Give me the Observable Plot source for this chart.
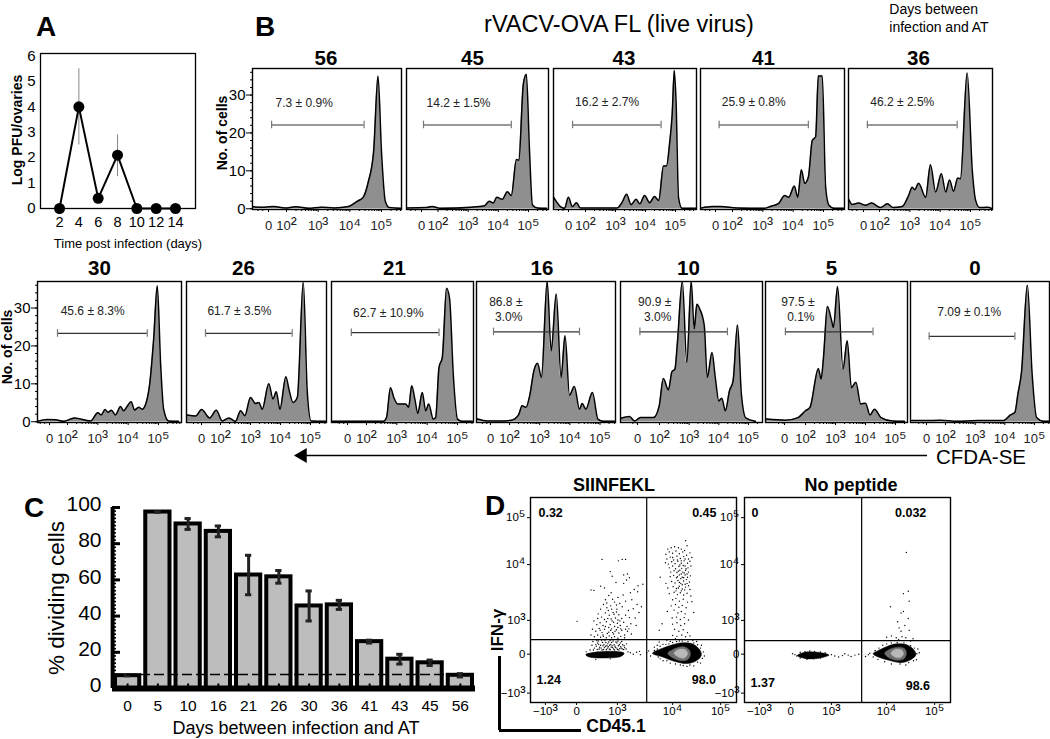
<!DOCTYPE html>
<html>
<head>
<meta charset="utf-8">
<script src="https://cdn.jsdelivr.net/npm/d3@7"></script>
<script src="https://cdn.jsdelivr.net/npm/@observablehq/plot@0.6"></script>
<style>
html,body{margin:0;padding:0;background:#fff}
#page{position:relative;width:1050px;height:739px;overflow:hidden;font-family:"Liberation Sans",Arial,sans-serif;color:#000}
#page svg{position:absolute;overflow:visible}
.t{position:absolute;white-space:pre;line-height:1}
</style>
</head>
<body>
<div id="page"></div>
<script>
// ---------- Panel A ----------
const aDays = [2,4,6,8,10,12,14];
const aLog = [0,4,0.4,2.1,0,0,0];
const aLow = [null,2.5,null,1.25,null,null,null];
const aHigh = [null,5.5,null,2.9,null,null,null];

// ---------- Panel B: histograms [display position, cells] ----------
const hist56=[[0.95,.5],[1.3,.4],[1.6,.6],[1.95,.2],[2.3,.5],[2.7,.1],[3.1,.4],[3.5,.2],[3.8,.4],[3.96,.6],[4.24,2],[4.42,3],[4.58,7],[4.75,15],[4.89,35],[5,15],[5.12,2],[5.25,.3],[5.6,.1]];
const hist45=[[0.95,.2],[1.6,.3],[1.8,.6],[2.1,.1],[3.1,.4],[3.54,.8],[3.7,2],[3.83,1.5],[3.95,3],[4.13,2.5],[4.3,4.5],[4.43,3.5],[4.6,13],[4.68,12.8],[4.83,33],[4.93,35.5],[5.03,16],[5.13,1],[5.3,.2],[5.6,.1]];
const hist43=[[0.94,3],[1.19,.4],[1.3,.1],[1.43,3],[1.56,.6],[1.7,1.6],[1.83,.2],[3.06,.2],[3.22,1.7],[3.37,3.8],[3.52,1.1],[3.69,2.5],[3.81,1.3],[3.97,3.5],[4.14,1.6],[4.3,3.2],[4.44,2.2],[4.6,11.3],[4.7,11.3],[4.8,17],[4.89,25],[4.96,36.5],[5.02,28],[5.1,3],[5.22,.1],[5.7,.1]];
const hist41=[[0.97,.2],[1.33,.6],[1.6,.6],[2.15,.2],[3.03,.1],[3.25,.6],[3.52,1.4],[3.72,3.5],[3.85,3],[4.04,6],[4.15,3],[4.27,10.3],[4.38,6.7],[4.5,8.3],[4.63,18],[4.74,19],[4.83,35],[4.96,35],[5.07,5.7],[5.18,.9],[5.35,.1],[5.7,.1]];
const hist36=[[0.99,2.4],[1.1,1.1],[1.31,1.5],[1.54,.9],[1.74,1.5],[2.03,.3],[2.26,1.3],[2.45,.3],[2.75,.6],[2.96,3.5],[3.08,5.7],[3.16,5],[3.29,6.7],[3.52,3],[3.68,11.6],[3.85,4.4],[4.04,9.2],[4.18,4.4],[4.31,7.6],[4.44,4.6],[4.58,8.1],[4.67,7.9],[4.89,35.8],[5.06,10],[5.17,2.2],[5.3,.3],[5.56,.4],[5.7,.1]];
const hist30=[[1.05,.2],[1.33,.6],[1.6,.5],[1.87,.1],[2.23,1],[2.76,.2],[3,2.4],[3.11,1.8],[3.24,3.2],[3.33,2.5],[3.45,3],[3.58,1.8],[3.75,4],[3.85,2.9],[3.97,4.1],[4.1,5.3],[4.21,3.1],[4.35,3.8],[4.46,3.3],[4.57,4.5],[4.71,10],[4.84,21.8],[4.96,35.9],[5.07,15.2],[5.17,3.3],[5.33,.2],[5.66,.1]];
const hist26=[[0.89,1.8],[1.17,1.5],[1.37,3.2],[1.64,1],[1.86,3],[2.06,.2],[2.28,1],[2.5,.1],[2.67,2.9],[2.81,1.6],[3,6.4],[3.17,4.8],[3.28,5.1],[3.39,3.3],[3.61,10],[3.75,6],[3.86,7.9],[3.98,3.3],[4.18,11.9],[4.28,8.6],[4.42,5.1],[4.56,6.4],[4.76,36.8],[4.89,8.2],[5.02,.2],[5.5,.1]];
const hist21=[[0.87,.1],[2.56,.1],[2.66,1.1],[2.79,9],[2.9,6.4],[3.03,4.7],[3.29,4.7],[3.39,3.8],[3.49,9.5],[3.6,5.7],[3.69,2.2],[3.84,7.7],[3.95,2.9],[4.05,4.7],[4.2,.7],[4.28,1.1],[4.39,14.3],[4.5,17],[4.64,35.2],[4.74,32.4],[4.86,12.6],[5,.7],[5.16,.1],[5.5,.1]];
const hist16=[[0.94,.7],[1.26,.2],[1.69,.2],[2.06,.4],[2.3,1.8],[2.42,4.2],[2.55,3.8],[2.67,6.9],[2.81,13.5],[2.93,15.4],[3.06,11.7],[3.25,37],[3.38,18.7],[3.55,33.7],[3.71,11.7],[3.84,22.7],[3.99,7],[4.15,9.3],[4.32,3.3],[4.41,4.8],[4.53,3.3],[4.75,7.7],[4.93,.7],[5.11,.1],[5.48,.1]];
const hist10=[[0.72,1],[0.99,1.4],[1.16,.2],[1.36,1.1],[1.8,1.1],[1.99,4.2],[2.13,11.4],[2.3,8.4],[2.42,13.2],[2.52,13.9],[2.6,20.5],[2.77,37],[2.92,15.7],[3.07,37],[3.17,24.5],[3.26,31],[3.36,29.7],[3.51,25.3],[3.61,11.7],[3.77,18.3],[3.88,11.7],[4,5.5],[4.1,6.2],[4.22,2.9],[4.36,8.2],[4.48,10.8],[4.63,25.5],[4.76,7.3],[4.91,1],[5.23,.1]];
const hist5=[[0.7,.7],[1.32,.4],[1.75,1.1],[2,2.9],[2.15,3.8],[2.43,14],[2.52,11.3],[2.6,17],[2.73,30.4],[2.86,27],[2.93,24.9],[3.07,35.7],[3.25,13.9],[3.39,21.4],[3.53,9],[3.68,10.4],[3.84,4.7],[4,4.9],[4.15,1.8],[4.3,3.3],[4.52,1.1],[4.89,.2],[5.3,.1]];
const hist0=[[0.86,.3],[1.33,.3],[1.83,.4],[2.4,.1],[3.07,.3],[3.94,.3],[4.19,1.8],[4.34,2.5],[4.44,7.3],[4.56,13],[4.76,36],[4.92,12.6],[5.07,1.1],[5.31,.1],[5.6,.1]];

const bPanels = [
  {day:"56",hist:hist56,pct:"7.3 ± 0.9%",gate:[1.53,4.45,22.1],pctAt:[2.56,28.2]},
  {day:"45",hist:hist45,pct:"14.2 ± 1.5%",gate:[1.52,4.43,22.1],pctAt:[2.68,28.2]},
  {day:"43",hist:hist43,pct:"16.2 ± 2.7%",gate:[1.57,4.52,22.1],pctAt:[2.72,28.5]},
  {day:"41",hist:hist41,pct:"25.9 ± 0.8%",gate:[1.56,4.5,22.1],pctAt:[2.7,28.5]},
  {day:"36",hist:hist36,pct:"46.2 ± 2.5%",gate:[1.6,4.56,22.1],pctAt:[2.75,28.5]},
  {day:"30",hist:hist30,pct:"45.6 ± 8.3%",gate:[1.67,4.63,23.3],pctAt:[2.83,29.3]},
  {day:"26",hist:hist26,pct:"61.7 ± 3.5%",gate:[1.5,4.39,23.3],pctAt:[2.63,29.3]},
  {day:"21",hist:hist21,pct:"62.7 ± 10.9%",gate:[1.5,4.39,23.5],pctAt:[2.72,29]},
  {day:"16",hist:hist16,pct:"86.8 ±\n3.0%",gate:[1.47,4.32,23.7],pctAt:[2.43,29.8],end:true},
  {day:"10",hist:hist10,pct:"90.9 ±\n3.0%",gate:[1.34,4.29,23.7],pctAt:[2.4,29.8],end:true},
  {day:"5",hist:hist5,pct:"97.5 ±\n0.1%",gate:[1.33,4.25,23.7],pctAt:[2.3,29.8],end:true},
  {day:"0",hist:hist0,pct:"7.09 ± 0.1%",gate:[1.45,4.34,22.5],pctAt:[2.8,29.1]}
];
const bTickLabels = ["0","10²","10³","10⁴","10⁵"];
const bMinorTicks = [2.3,2.48,2.6,2.7,2.78,2.85,2.9,2.95,3.3,3.48,3.6,3.7,3.78,3.85,3.9,3.95,4.3,4.48,4.6,4.7,4.78,4.85,4.9,4.95,5.3,5.48,5.6,5.7,1.1,1.25];

// Layout of the small multiples
const bLayout = [
  {l:252,r:401,t:68,b:209,x2:286,x5:381,zero:268,dx:-1,axis:true},
  {l:406,r:548,t:68,b:209,x2:437.5,x5:528,zero:421,dx:-5},
  {l:553,r:696,t:68,b:209,x2:585,x5:675,zero:568,dx:-1},
  {l:700,r:844,t:68,b:209,x2:732,x5:823,zero:715,dx:-9},
  {l:848,r:992,t:68,b:209,x2:879,x5:970,zero:863,dx:-2},
  {l:37,r:181,t:281,b:422,x2:67,x5:158,zero:49,dx:-10,axis:true},
  {l:186,r:326,t:281,b:422,x2:220,x5:310,zero:201,dx:-13},
  {l:331,r:473,t:281,b:422,x2:366,x5:457,zero:347,dx:-8},
  {l:476,r:615,t:281,b:422,x2:509,x5:599.5,zero:490,dx:-4},
  {l:620,r:762,t:281,b:422,x2:659,x5:748,zero:637,dx:-3},
  {l:765,r:907,t:281,b:422,x2:805,x5:895,zero:784,dx:-5},
  {l:910,r:1049,t:281,b:422,x2:945,x5:1034,zero:926,dx:-5}
];

// ---------- Panel C ----------
const cDays = ["0","5","10","16","21","26","30","36","41","43","45","56"];
const cPct = [7.09,97.5,90.9,86.8,62.7,61.7,45.6,46.2,25.9,16.2,14.2,7.3];
const cErr = [0.1,0.1,3.0,3.0,10.9,3.5,8.3,2.5,0.8,2.7,1.5,0.9];
const cCutoff = 7.7;

// ---------- Panel D (display-scale positions) ----------
const dXTicks = [1.35,2,2.85,4,5];
const dXLabels = ["−10³","0","10³","10⁴","10⁵"];
const dYTicks = [1.26,2.09,2.81,4,5];
const dYLabels = ["−10³","0","10³","10⁴","10⁵"];
const d1Upper = [[2.53,4.11],[2.87,4.08],[2.95,4.11],[3.02,4.11],[2.7,3.85],[2.74,3.75],[2.98,3.78],[3.06,3.8],[3.1,3.72],[3.04,3.67],[2.82,3.62],[2.98,3.6],[2.3,3.46],[2.36,3.45],[2.5,3.54],[2.58,3.5],[3.28,3.55],[3.38,3.58],[3.2,3.47],[3.27,3.42],[3.12,3.4],[2.97,3.35],[2.86,3.3],[2.72,3.4],[2.67,3.34],[2.6,3.25],[2.79,3.2],[2.9,3.17],[3.02,3.22],[3.15,3.25],[3.26,3.15],[3.35,3.1],[2.56,3.15],[2.5,3.05],[2.63,3.08],[2.71,3.12],[2.84,3.05],[2.95,3.1],[3.08,3.02],[3.18,3.06],[3.3,2.98],[2.45,2.95],[2.52,2.88],[2.6,2.97],[2.68,2.92],[2.76,2.98],[2.81,2.86],[2.88,2.93],[2.94,2.85],[3.02,2.92],[3.1,2.87],[3.22,2.86],[2.01,2.79],[2.36,2.8],[2.42,2.72],[2.49,2.76],[2.55,2.7],[2.62,2.78],[2.7,2.72],[2.74,2.8],[2.79,2.68],[2.85,2.75],[2.91,2.7],[2.98,2.77],[3.05,2.68],[3.13,2.74],[3.24,2.7],[2.33,2.62],[2.4,2.58],[2.47,2.64],[2.53,2.55],[2.58,2.62],[2.64,2.53],[2.71,2.6],[2.77,2.52],[2.83,2.61],[2.88,2.54],[2.94,2.6],[3,2.5],[3.06,2.58],[3.14,2.52],[2.3,2.5],[2.37,2.46],[2.44,2.5],[2.5,2.45],[2.56,2.47],[2.62,2.44],[2.68,2.48],[2.73,2.44],[2.79,2.46],[2.86,2.43],[2.92,2.47],[3,2.44],
[2.66,3.02],[2.73,3.05],[2.78,2.94],[2.83,2.99],[2.86,2.82],[2.72,2.84],[2.65,2.85],[2.58,2.83],[2.77,2.77],[2.9,2.8],[2.67,2.66],[2.6,2.68],[2.73,2.63],[2.8,2.58],[2.86,2.66],[2.92,2.63],[2.49,2.6],[2.55,2.5],[2.67,2.56],[2.75,2.55],[3.02,2.62],[3.09,2.63],[2.44,2.85],[2.75,3.26],[2.83,3.14],[2.63,3.18]];
const d1UpperRight = [[4.27,4.51],[4.3,4.4],[4.25,4.3],[4.36,4.25],[3.9,4.33],[3.97,4.36],[4.04,4.38],[4.12,4.36],[4.18,4.33],[3.86,4.22],[3.93,4.27],[4,4.24],[4.07,4.29],[4.14,4.23],[4.21,4.27],[4.29,4.2],[3.88,4.12],[3.95,4.16],[4.02,4.1],[4.09,4.18],[4.16,4.13],[4.23,4.17],[4.33,4.12],[4.4,4.15],[3.85,4.04],[3.91,4.01],[3.98,4.06],[4.05,4.02],[4.11,4.07],[4.18,4.03],[4.24,4.08],[4.31,4.03],[4.36,4.07],[3.93,3.93],[4,3.97],[4.06,3.91],[4.13,3.96],[4.19,3.92],[4.26,3.97],[4.32,3.93],[4.38,3.97],[3.96,3.84],[4.03,3.87],[4.09,3.83],[4.15,3.88],[4.21,3.84],[4.27,3.88],[4.33,3.84],[3.74,3.73],[3.95,3.74],[4.02,3.77],[4.08,3.72],[4.14,3.78],[4.2,3.73],[4.26,3.78],[4.31,3.73],[4.37,3.76],[3.86,3.6],[3.98,3.64],[4.05,3.61],[4.11,3.66],[4.17,3.6],[4.23,3.65],[4.3,3.6],[4.35,3.63],[3.9,3.5],[4.01,3.53],[4.08,3.49],[4.14,3.54],[4.2,3.48],[4.27,3.52],[4.36,3.47],[3.93,3.38],[4.03,3.41],[4.1,3.36],[4.16,3.4],[4.23,3.35],[4.3,3.39],[4.38,3.33],[4,3.25],[4.07,3.28],[4.14,3.22],[4.22,3.26],[4.31,3.2],[4.4,3.21],[3.97,3.12],[4.06,3.15],[4.13,3.09],[4.2,3.13],[4.28,3.08],[3.89,3],[4.03,3.03],[4.11,2.97],[4.18,3],[4.26,2.95],[4.44,2.98],[3.99,2.86],[4.08,2.88],[4.16,2.83],[4.24,2.87],[4.33,2.82],[3.78,2.74],[4,2.73],[4.09,2.76],[4.17,2.7],[4.25,2.74],[3.72,2.6],[4.04,2.62],[4.13,2.58],[4.22,2.61],[4.31,2.55],[4,2.49],[4.09,2.47],[4.19,2.5],[4.27,2.46],[4.36,2.48],
[4.1,4.1],[4.18,4.08],[4.26,4.12],[4.15,3.99],[4.22,3.98],[4.28,3.91],[4.12,3.86],[4.18,3.8],[4.24,3.82],[4.1,3.74],[4.17,3.7],[4.23,3.72],[4.29,3.68],[4.14,3.62],[4.2,3.57],[4.26,3.58],[4.12,3.5],[4.18,3.44],[4.25,3.46],[4.33,3.55],[4.07,3.44],[4,4.15],[4.3,3.8]];
const d1LowerDots = [[2.34,2.36],[2.4,2.3],[2.45,2.37],[2.5,2.28],[2.54,2.34],[2.59,2.38],[2.63,2.27],[2.67,2.35],[2.71,2.3],[2.76,2.37],[2.8,2.26],[2.84,2.33],[2.89,2.29],[2.94,2.36],[2.99,2.27],[3.04,2.31],[2.37,2.22],[2.43,2.19],[2.48,2.24],[2.53,2.18],[2.58,2.23],[2.62,2.19],[2.66,2.25],[2.7,2.19],[2.75,2.23],[2.79,2.18],[2.84,2.22],[2.88,2.18],[2.93,2.22],[2.98,2.19],[3.03,2.2],[3.07,2.14],[3.12,2.12],[3.18,2.09],[3.25,2.13],[3.31,2.15],[3.33,2.08],[2.32,2.28],[2.46,2.3],[2.57,2.3],[2.74,2.27],[2.92,2.25],[2.28,2.18],[2.2,2.14],[2.4,1.98],[2.7,1.99],[3.46,2.12],[3.5,2.16],[3.54,2.05],[3.62,2.24],[3.68,2.28],[3.72,2.35],[3.8,2.3],[3.88,2.38],[3.95,2.36],[4.06,2.42],[4.14,2.37],[4.26,2.4],[4.42,2.38],[4.5,2.36],[4.6,2.28],[4.64,2.14],[4.66,2.05],[4.58,1.9],[4.44,1.84],[4.3,1.83],[4.16,1.86],[3.95,1.9],[3.8,1.95],
[2.35,2.18],[2.41,2.26],[2.44,2.33],[2.47,2.2],[2.51,2.22],[2.55,2.27],[2.56,2.19],[2.6,2.26],[2.61,2.34],[2.64,2.22],[2.65,2.31],[2.68,2.2],[2.69,2.28],[2.72,2.24],[2.73,2.34],[2.77,2.2],[2.78,2.29],[2.81,2.23],[2.82,2.35],[2.85,2.19],[2.87,2.27],[2.9,2.21],[2.91,2.33],[2.95,2.2],[2.96,2.29],[3,2.23],[2.52,2.38],[2.42,2.38],[2.7,2.38],[2.86,2.37],[3.62,2.17],[3.68,2.2],[3.7,2.03],[3.74,2.26],[3.86,2.3],[3.92,2.31],[4,2.34],[4.08,2.36],[4.2,2.37],[4.32,2.36],[4.44,2.33],[4.52,2.29],[4.58,2.22],[4.62,2],[4.52,1.92],[4.36,1.86],[4.22,1.85],[4.06,1.88],[3.88,1.95],[3.74,1.99]];
const d2Dots = [[4.41,4.26],[4.35,3.38],[4.45,3.43],[4.47,3.22],[4.08,3.1],[4.3,2.97],[4.35,3],[4.45,2.85],[4.23,2.78],[4.38,2.7],[4.26,2.65],[4.3,2.58],[4.47,2.6],[4,2.45],[4.1,2.48],[4.2,2.44],[4.32,2.46],[4.4,2.44],[4.55,2.42],[4.08,2.38],[4.25,2.4],[4.5,2.37],[2.09,2.08],[2.13,2.05],[2.04,2.1],[2.85,2.08],[2.92,2.05],[3,2.03],[3.08,2.06],[3.13,2.1],[3.2,2.07],[3.26,2.04],[3.34,2.07],[3.42,2.09],[3.56,2.04],[3.62,2.08],[3.65,2.11],[4.65,2.2],[4.68,2.12],[4.62,1.97],[4.4,1.86],[4.1,1.88],
[2.2,2.13],[2.3,2.15],[2.4,2.16],[2.5,2.15],[2.62,2.14],[2.72,2.12],[2.2,2.01],[2.34,1.98],[2.48,1.99],[2.62,2.01],[3.76,2.17],[3.84,2.22],[3.92,2.28],[4,2.31],[4.1,2.33],[4.22,2.34],[4.36,2.33],[4.5,2.27],[4.58,2.22],[4.63,2.1],[4.56,1.95],[4.46,1.91],[4.28,1.88],[3.96,1.93],[3.82,1.98],[3.72,2.03]];
const d1Outer = [[3.58,2.11],[3.75,2.2],[3.96,2.28],[4.17,2.33],[4.41,2.31],[4.55,2.2],[4.6,2.08],[4.51,1.96],[4.3,1.89],[4.03,1.94],[3.79,2.03]];
const d1Mid = [[3.9,2.11],[4.03,2.2],[4.21,2.25],[4.33,2.2],[4.37,2.1],[4.32,1.98],[4.17,1.95],[3.99,2.02]];
const d1Light = [[4.03,2.11],[4.13,2.19],[4.27,2.18],[4.31,2.1],[4.24,2.01],[4.12,2.03]];
const d1Strip = [[2.19,2.08],[2.44,2.14],[2.78,2.15],[2.99,2.11],[2.92,2.04],[2.58,2.01],[2.26,2.03]];
const d2Outer = [[3.72,2.1],[3.85,2.18],[4.02,2.26],[4.2,2.31],[4.42,2.29],[4.56,2.19],[4.61,2.08],[4.5,1.97],[4.3,1.91],[4.05,1.96],[3.85,2.02]];
const d2Mid = [[3.96,2.11],[4.08,2.2],[4.26,2.24],[4.38,2.2],[4.41,2.1],[4.36,1.99],[4.21,1.96],[4.04,2.02]];
const d2Light = [[4.09,2.11],[4.18,2.19],[4.31,2.18],[4.35,2.1],[4.29,2.02],[4.17,2.03]];
const d2Strip = [[2.14,2.06],[2.29,2.13],[2.57,2.13],[2.8,2.07],[2.57,2],[2.29,2]];

// ---------- helpers ----------
const page = document.getElementById("page");
const FONT = '"Liberation Sans",Arial,sans-serif';
const NS = "http://www.w3.org/2000/svg";
function bigSup(svg){
  svg.querySelectorAll("text").forEach(t=>{
    const s=t.textContent, m=s.match(/^(.*)([²³⁴⁵])$/);
    if(!m||t.children.length) return;
    t.textContent=m[1];
    const sp=document.createElementNS(NS,"tspan");
    sp.setAttribute("font-size","140%");sp.textContent=m[2];
    t.appendChild(sp);
  });
}
function place(svg,left,top){bigSup(svg);svg.style.left=left+"px";svg.style.top=top+"px";svg.style.background="transparent";page.appendChild(svg);}
function label(text,x,y,size,opts={}){
  const d=document.createElement("div");d.className="t";d.textContent=text;
  d.style.fontSize=size+"px";
  d.style.fontWeight=opts.bold?"bold":"normal";
  let tr="translate(-50%,-50%)";
  if(opts.rotate) tr+=" rotate("+opts.rotate+"deg)";
  d.style.left=x+"px";d.style.top=y+"px";d.style.transform=tr;
  if(opts.lh) d.style.lineHeight=opts.lh;
  page.appendChild(d);
}
const baseStyle={background:"transparent",fontFamily:FONT,color:"#000",overflow:"visible"};

// ---------- Panel A chart ----------
const aData = aDays.map((d,i)=>({d,v:aLog[i],lo:aLow[i],hi:aHigh[i]}));
place(Plot.plot({
  width:195,height:240,marginLeft:40,marginRight:0,marginTop:53,marginBottom:32,
  style:baseStyle,
  x:{domain:[0.03,16.07]},y:{domain:[0,6.1]},
  marks:[
    Plot.frame({stroke:"#000",strokeWidth:1.3}),
    Plot.ruleX(aData.filter(d=>d.lo!=null),{x:"d",y1:"lo",y2:"hi",stroke:"#888",strokeWidth:1}),
    Plot.line(aData,{x:"d",y:"v",stroke:"#000",strokeWidth:2}),
    Plot.dot(aData,{x:"d",y:"v",r:5.5,fill:"#000"}),
    Plot.axisX({ticks:aDays,tickSize:0,tickPadding:8,fontSize:14.5,label:null,tickFormat:d=>d}),
    Plot.axisY({ticks:[0,1,2,3,4,5,6],tickSize:0,tickPadding:5,fontSize:15,label:null,tickFormat:d=>d})
  ]
}),0,0);

// ---------- Panel B small multiples ----------
bPanels.forEach((p,i)=>{
  const L=bLayout[i];
  const dec=(L.x5-L.x2)/3;
  const uAt=px=>2+(px-L.x2)/dec;
  const ml=L.axis?34:2, mb=26, mt=24, mr=2;
  const w=L.r-L.l, h=L.b-L.t;
  const xd=[uAt(L.l),uAt(L.r)];
  const ticks=[uAt(L.zero),2,3,4,5];
  const pts=p.hist.map(d=>({u:d[0],c:d[1]}));
  const marks=[
    Plot.areaY(pts,{x:"u",y:"c",fill:"#8f8f8f",curve:"monotone-x",clip:true}),
    Plot.line(pts,{x:"u",y:"c",stroke:"#000",strokeWidth:1.5,curve:"monotone-x",clip:true}),
    Plot.ruleY([{a:p.gate[0],b:p.gate[1],y:p.gate[2]}],{x1:"a",x2:"b",y:"y",stroke:"#333",strokeWidth:1.2}),
    Plot.ruleX([{x:p.gate[0],y:p.gate[2]},{x:p.gate[1],y:p.gate[2]}],{x:"x",y1:d=>d.y-1,y2:d=>d.y+1,stroke:"#777",strokeWidth:1.2}),
    Plot.text([p.pct],{x:()=>p.pctAt[0],y:()=>p.pctAt[1],text:d=>d,fontSize:12,fill:"#222",textAnchor:p.end?"end":"middle",lineHeight:1.25}),
    Plot.text([p.day],{text:d=>d,frameAnchor:"top",dx:L.dx,dy:i<5?-10:-13,fontSize:20.5,fontWeight:"bold",lineAnchor:"middle",fill:"#000"}),
    Plot.frame({stroke:"#000",strokeWidth:1.4}),
    Plot.axisX({ticks:bMinorTicks.filter(u=>u>xd[0]&&u<xd[1]),tickSize:2,text:null,label:null}),
    Plot.axisX({ticks,tickSize:3,tickPadding:8,fontSize:13,label:null,tickFormat:d=>bTickLabels[ticks.indexOf(d)],fill:"#222"})
  ];
  if(L.axis){
    marks.push(Plot.axisY({ticks:[0,10,20,30],tickSize:6,tickPadding:1,fontSize:15,label:null,tickFormat:d=>d}));
    marks.push(Plot.axisY({ticks:d3.range(0,37,2),tickSize:2,text:null,label:null}));
  }
  place(Plot.plot({
    width:w+ml+mr,height:h+mt+mb,marginLeft:ml,marginRight:mr,marginTop:mt,marginBottom:mb,
    style:baseStyle,
    x:{domain:xd},y:{domain:[-0.2,37],axis:L.axis?undefined:null},
    marks
  }),L.l-ml,L.t-mt);
});

// ---------- Arrow under panel B ----------
place(Plot.plot({
  width:630,height:16,margin:0,style:baseStyle,
  x:{domain:[0,1],axis:null},y:{domain:[0,1],axis:null},
  marks:[
    Plot.ruleY([0.5],{stroke:"#000",strokeWidth:1.6,insetLeft:8}),
    Plot.dot([0],{x:d=>d,y:()=>0.5,symbol:"triangle",rotate:-90,r:5.5,fill:"#000",dx:5})
  ]
}),297,447);

// ---------- Panel C chart ----------
const cData = cDays.map((d,i)=>({d,v:cPct[i],e:cErr[i]}));
const cW=480,cML=112,cMR=5;
place(Plot.plot({
  width:cW,height:225,marginLeft:cML,marginRight:cMR,marginTop:17,marginBottom:27,
  style:baseStyle,
  x:{type:"band",domain:cDays,padding:0,round:false},
  y:{domain:[0,100]},
  marks:[
    Plot.barY(cData,{x:"d",y:"v",fill:"#bdbdbd",stroke:"#000",strokeWidth:4,insetLeft:3,insetRight:3}),
    Plot.ruleX(cData,{x:"d",y1:d=>d.v-d.e,y2:d=>d.v+d.e,stroke:"#222",strokeWidth:3}),
    Plot.tickY(cData,{x:"d",y:d=>d.v-d.e,stroke:"#222",strokeWidth:3,insetLeft:12,insetRight:12}),
    Plot.tickY(cData,{x:"d",y:d=>d.v+d.e,stroke:"#222",strokeWidth:3,insetLeft:12,insetRight:12}),
    Plot.ruleX(cDays,{x:d=>d,y1:0,y2:2.5,stroke:"#000",strokeWidth:2}),
    Plot.ruleY([cCutoff],{stroke:"#000",strokeWidth:1.5,strokeDasharray:"10,4"}),
    Plot.ruleY([0],{stroke:"#000",strokeWidth:6}),
    Plot.ruleX([0],{x:()=>cDays[0],y1:0,y2:100,stroke:"#000",strokeWidth:4,dx:-15}),
    Plot.ruleY(d3.range(0,101,2),{y:d=>d,stroke:"#000",strokeWidth:1.6,insetLeft:0,insetRight:cW-cML-cMR-4}),
    Plot.ruleY([20,40,60,80,100],{y:d=>d,stroke:"#000",strokeWidth:3,insetRight:cW-cML-cMR-8}),
    Plot.axisX({tickSize:0,tickPadding:11,fontSize:15.5,label:null}),
    Plot.axisY({ticks:[0,20,40,60,80,100],tickSize:0,tickPadding:11,fontSize:21,label:null,tickFormat:d=>d,dy:-3})
  ]
}),0,490);

// ---------- Panel D charts ----------
function flow(left,quadX,quadY,labels,layers,dotSets){
  const toPts=a=>a.map(d=>({x:d[0],y:d[1]}));
  const ml=38,mb=24,mt=2,mr=2;
  const marks=[
    ...layers.map(([poly,col])=>Plot.line(toPts(poly),{x:"x",y:"y",fill:col,stroke:col,strokeWidth:.5,curve:"catmull-rom-closed"})),
    ...dotSets.map(s=>Plot.dot(toPts(s),{x:"x",y:"y",r:0.7,fill:"#000",stroke:"none"})),
    Plot.ruleX([quadX],{stroke:"#000",strokeWidth:1.2}),
    Plot.ruleY([quadY],{stroke:"#000",strokeWidth:1.2}),
    Plot.frame({stroke:"#000",strokeWidth:1.4}),
    Plot.text(labels,{x:"x",y:"y",text:"s",fontWeight:"bold",fontSize:12.5,fill:"#000"}),
    Plot.axisX({ticks:dXTicks,tickSize:3,tickPadding:1,fontSize:11.5,label:null,tickFormat:d=>dXLabels[dXTicks.indexOf(d)]}),
    Plot.axisY({ticks:dYTicks,tickSize:3,tickPadding:2,fontSize:11.5,label:null,tickFormat:d=>dYLabels[dYTicks.indexOf(d)]})
  ];
  place(Plot.plot({
    width:206+ml+mr,height:205+mt+mb,marginLeft:ml,marginRight:mr,marginTop:mt,marginBottom:mb,
    style:baseStyle,
    x:{domain:[1.04,5.33]},y:{domain:[1.06,5.43]},marks
  }),left-ml,497-mt);
}
flow(530,3.46,2.40,
  [{s:"0.32",x:1.46,y:5.09},{s:"0.45",x:4.66,y:5.09},{s:"1.24",x:1.42,y:1.53},{s:"98.0",x:4.65,y:1.53}],
  [[d1Outer,"#000"],[d1Mid,"#6e6e6e"],[d1Light,"#b8b8b8"],[d1Strip,"#000"]],
  [d1Upper,d1UpperRight,d1LowerDots]);
flow(744,3.48,2.38,
  [{s:"0",x:1.26,y:5.09},{s:"0.032",x:4.5,y:5.09},{s:"1.37",x:1.42,y:1.47},{s:"98.6",x:4.65,y:1.42}],
  [[d2Outer,"#000"],[d2Mid,"#6e6e6e"],[d2Light,"#b8b8b8"],[d2Strip,"#000"]],
  [d2Dots]);

// L-shaped IFN / CD45.1 axis
place(Plot.plot({
  width:82,height:74,margin:0,style:baseStyle,
  x:{domain:[0,1],axis:null},y:{domain:[0,1],axis:null},
  marks:[
    Plot.ruleX([0],{stroke:"#000",strokeWidth:3}),
    Plot.ruleY([0],{stroke:"#000",strokeWidth:3})
  ]
}),499,656);

// ---------- Text ----------
label("A",46,27,28,{bold:true});
label("B",265,27,28,{bold:true});
label("C",34,508,28,{bold:true});
label("D",495,506,28,{bold:true});
label("rVACV-OVA FL (live virus)",619,25,23.5);
label("Days between\ninfection and AT",939,18,14,{lh:"18px"});
label("Log PFU/ovaries",17,130,14,{bold:true,rotate:-90});
label("Time post infection (days)",128,243,13);
label("No. of cells",222,133,14,{bold:true,rotate:-90});
label("No. of cells",7,347,14,{bold:true,rotate:-90});
label("CFDA-SE",981,457,20.5);
label("% dividing cells",57,598,22.5,{rotate:-90});
label("Days between infection and AT",296,728,18);
label("SIINFEKL",614,485,18,{bold:true});
label("No peptide",851,485,18,{bold:true});
label("IFN-γ",497,630,17,{bold:true,rotate:-90});
label("CD45.1",616,727,17.5,{bold:true});
</script>
</body>
</html>
